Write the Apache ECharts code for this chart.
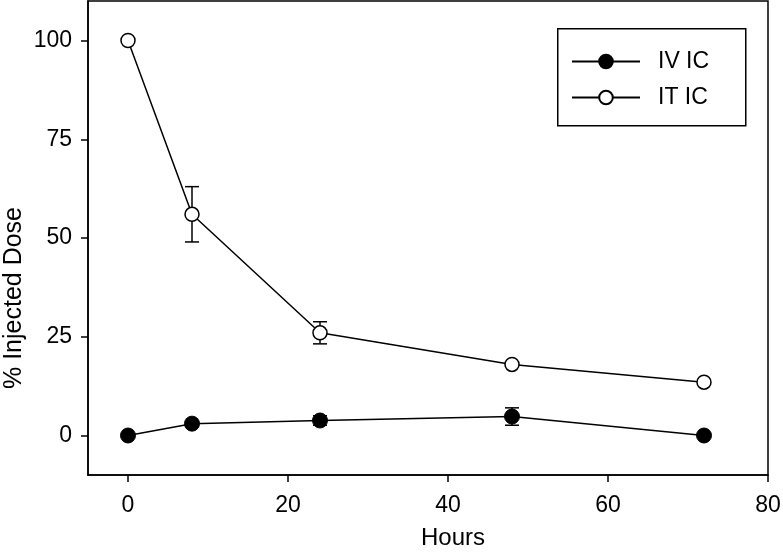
<!DOCTYPE html>
<html>
<head>
<meta charset="utf-8">
<script src="https://cdn.jsdelivr.net/npm/echarts@6/dist/echarts.min.js"></script>
<style>html,body{margin:0;padding:0;background:#fff}#c{width:783px;height:554px}</style>
</head>
<body>
<div id="c"></div>
<script>
var hours = [0, 8, 24, 48, 72];
var ivIC = [0, 3, 3.8, 4.8, 0];
var ivErr = [0, 0, 1.2, 2.2, 0];
var itIC = [100, 56, 26, 18, 13.5];
var itErr = [0, 7, 2.8, 0, 0];
var xTicks = [0, 20, 40, 60, 80];
var yTicks = [0, 25, 50, 75, 100];

var FONT = 'Liberation Sans, Arial, sans-serif';

function pairs(xs, ys) { return xs.map(function (x, i) { return [x, ys[i]]; }); }
function errData(xs, ys, es) {
  var out = [];
  xs.forEach(function (x, i) { if (es[i] > 0) out.push([x, ys[i] - es[i], ys[i] + es[i]]); });
  return out;
}
function errRender(params, api) {
  var x = api.value(0), lo = api.value(1), hi = api.value(2);
  var pLo = api.coord([x, lo]), pHi = api.coord([x, hi]);
  var w = 7;
  var st = { stroke: '#000', lineWidth: 1.5, fill: null };
  return {
    type: 'group',
    children: [
      { type: 'line', shape: { x1: pHi[0], y1: pHi[1], x2: pLo[0], y2: pLo[1] }, style: st },
      { type: 'line', shape: { x1: pHi[0] - w, y1: pHi[1], x2: pHi[0] + w, y2: pHi[1] }, style: st },
      { type: 'line', shape: { x1: pLo[0] - w, y1: pLo[1], x2: pLo[0] + w, y2: pLo[1] }, style: st }
    ]
  };
}

var chart = echarts.init(document.getElementById('c'), null, { renderer: 'canvas' });
chart.setOption({
  animation: false,
  backgroundColor: '#fff',
  textStyle: { fontFamily: FONT },
  grid: { left: 88, right: 15, top: 1, bottom: 79, outerBoundsMode: 'none', containLabel: false, show: true, borderColor: '#000', borderWidth: 1.5, backgroundColor: 'transparent' },
  graphic: [
    { type: 'rect', left: 557, top: 28, shape: { width: 188, height: 97 }, style: { fill: '#fff', stroke: '#000', lineWidth: 1.5 }, z: 5 }
  ],
  legend: {
    left: 571, top: 50,
    orient: 'vertical',
    padding: 0,
    itemWidth: 68, itemHeight: 17, itemGap: 13,
    z: 10,
    textStyle: { fontFamily: FONT, fontSize: 23, color: '#000', padding: [0, 0, 0, 13] },
    data: ['IV IC', 'IT IC']
  },
  xAxis: {
    type: 'value', min: -5, max: 80,
    name: 'Hours', nameLocation: 'middle', nameGap: 51, nameMoveOverlap: false,
    nameTextStyle: { fontFamily: FONT, fontSize: 24, color: '#000', padding: [0, 0, 0, 50] },
    axisLine: { onZero: false, lineStyle: { color: '#000', width: 1.5 } },
    axisTick: { show: true, length: 7, customValues: xTicks, lineStyle: { color: '#000', width: 1.5 } },
    axisLabel: { customValues: xTicks, fontFamily: FONT, fontSize: 23, color: '#000', margin: 19 },
    splitLine: { show: false }
  },
  yAxis: {
    type: 'value', min: -10, max: 110,
    name: '% Injected Dose', nameLocation: 'middle', nameGap: 61, nameMoveOverlap: false,
    nameTextStyle: { fontFamily: FONT, fontSize: 25, color: '#000', padding: [0, 120, 0, 0] },
    axisLine: { show: true, onZero: false, lineStyle: { color: '#000', width: 1.5 } },
    axisTick: { show: true, length: 7, customValues: yTicks, lineStyle: { color: '#000', width: 1.5 } },
    axisLabel: { customValues: yTicks, fontFamily: FONT, fontSize: 23, color: '#000', margin: 16 },
    splitLine: { show: false }
  },
  series: [
    {
      name: 'IV IC', type: 'line', data: pairs(hours, ivIC),
      symbol: 'circle', symbolSize: 15,
      lineStyle: { color: '#000', width: 1.5 },
      itemStyle: { color: '#000', borderColor: '#000', borderWidth: 1 },
      z: 3
    },
    {
      name: 'IT IC', type: 'line', data: pairs(hours, itIC),
      symbol: 'circle', symbolSize: 14,
      lineStyle: { color: '#000', width: 1.5 },
      itemStyle: { color: '#fff', borderColor: '#000', borderWidth: 1.5 },
      z: 3
    },
    {
      name: 'ivErr', type: 'custom', data: errData(hours, ivIC, ivErr),
      renderItem: errRender, encode: { x: 0, y: [1, 2] }, z: 2, silent: true
    },
    {
      name: 'itErr', type: 'custom', data: errData(hours, itIC, itErr),
      renderItem: errRender, encode: { x: 0, y: [1, 2] }, z: 2, silent: true
    }
  ]
});
</script>
</body>
</html>
